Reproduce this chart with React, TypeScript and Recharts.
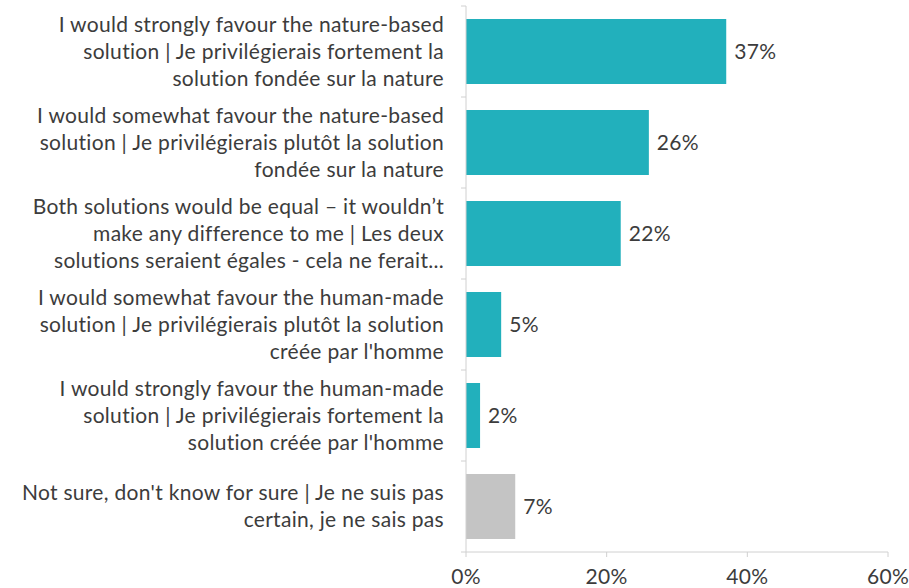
import { BarChart, Bar, XAxis, YAxis, Cell, LabelList } from 'recharts'

const categories = [
    ["I would strongly favour the nature-based", "solution | Je privilégierais fortement la", "solution fondée sur la nature"],
    ["I would somewhat favour the nature-based", "solution | Je privilégierais plutôt la solution", "fondée sur la nature"],
    ["Both solutions would be equal – it wouldn’t", "make any difference to me | Les deux", "solutions seraient égales - cela ne ferait..."],
    ["I would somewhat favour the human-made", "solution | Je privilégierais plutôt la solution", "créée par l'homme"],
    ["I would strongly favour the human-made", "solution |  Je privilégierais fortement la", "solution créée par l'homme"],
    ["Not sure, don't know for sure | Je ne suis pas", "certain, je ne sais pas"],
]
const values = [37, 26, 22, 5, 2, 7]
const colors = ["#22b0bc", "#22b0bc", "#22b0bc", "#22b0bc", "#22b0bc", "#c4c4c4"]
const xTicks = [0, 20, 40, 60]

const data = categories.map((lines, i) => ({ name: String(i), value: values[i] }))

const FONT = 'Lato, "Open Sans", sans-serif'
const BAND = 91
const TEXT = { fill: '#3c3c3c', fontSize: 21, fontFamily: FONT, letterSpacing: 0.3 }

function CategoryTick(props: any) {
    const { x, y, payload, index } = props
    const lines = categories[Number(payload.value)]
    const lh = 27
    const start = y - ((lines.length - 1) * lh) / 2
    return (
        <g>
            <line x1={x - 5} x2={x} y1={y - BAND / 2} y2={y - BAND / 2} stroke="#d0d0d0" />
            {index === categories.length - 1 &&
                <line x1={x - 5} x2={x} y1={y + BAND / 2} y2={y + BAND / 2} stroke="#d0d0d0" />}
            {lines.map((t: string, i: number) => (
                <text key={i} x={x - 22} y={start + i * lh} dy={7} textAnchor="end"
                    style={TEXT}>{t}</text>
            ))}
        </g>
    )
}

export default function App() {
    return (
        <div style={{ position: 'absolute', left: 0, top: 0, background: '#fff' }}>
            <BarChart width={909} height={588} data={data} layout="vertical"
                margin={{ top: 6, right: 21, bottom: 6, left: 0 }} barSize={65}>
                <XAxis type="number" domain={[0, 60]} ticks={xTicks} interval={0} height={30}
                    tickFormatter={(v: number) => `${v}%`} stroke="#d0d0d0" tickSize={5} tickMargin={12}
                    tick={TEXT} />
                <YAxis type="category" dataKey="name" width={466} stroke="#d0d0d0"
                    tickLine={false} tickSize={0} tickMargin={0} tick={<CategoryTick />} interval={0} />
                <Bar dataKey="value" isAnimationActive={false}>
                    {data.map((d, i) => <Cell key={i} fill={colors[i]} />)}
                    <LabelList dataKey="value" position="right" offset={8}
                        formatter={(v: any) => `${v}%`} style={TEXT} />
                </Bar>
            </BarChart>
        </div>
    )
}
